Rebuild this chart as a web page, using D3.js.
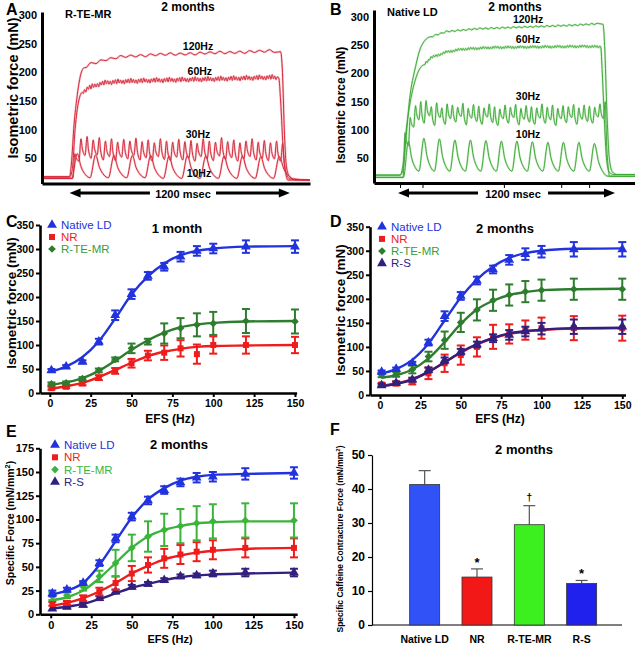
<!DOCTYPE html>
<html><head><meta charset="utf-8">
<script src="https://cdn.jsdelivr.net/npm/d3@7/dist/d3.min.js"></script>
<style>
body{margin:0;background:#fff;}
svg text{font-family:"Liberation Sans",Arial,Helvetica,sans-serif;}
</style></head>
<body><svg id="fig" width="635" height="647"></svg>
<script>
// ================= DATA =================
// Panels A/B: isometric force traces (mN) vs time (ms from stimulation onset)
const yTicksAB = [50,100,150,200,250,300];

// A: R-TE-MR, 2 months
const a10Peaks   = [58,56,55,55,55,54,55,54,54,54,53,53];
const a10Troughs = [15,16,16,16,16,15,15,15,15,15,15,15];
const a30Peaks   = [58,84,88,82,86,80,84,78,83,80,85,79,82,77,84,80,78,83,79,81,76,84,80,78,86,79,82,77,80,84,78,81,77,80,76];
const a30Troughs = [15,45,55,50,56,47,53,46,52,49,55,47,51,45,53,48,46,52,47,50,45,53,49,46,54,48,51,45,49,53,47,50,46,49,45];
const a60Times   = [-150,0,15,30,50,70,100,150,200,300,500,800,1000,1100,1140,1150,1165,1180,1200,1310];
const a60Force   = [17,17,30,100,150,165,172,178,182,184,186,188,190,191,190,150,60,25,14,12];
const a120Times  = [-150,0,10,25,40,60,80,110,150,200,300,500,700,900,1100,1150,1160,1170,1180,1195,1220,1310];
const a120Force  = [18,18,40,110,155,195,208,215,218,222,228,231,233,235,237,236,200,100,40,20,14,12];
const a60Ripple  = [3,2,4,3,2,4,3,5,2,3];
const a120Ripple = [2,1.5,2.5,2,1.5];

// B: Native LD, 2 months
const b10Peaks   = [80,85,84,82,82,81,80,80,79,78,78,78,76];
const b10Troughs = [16,27,27,27,27,27,27,27,27,27,27,27,27];
const b30Peaks   = [95,122,143,150,152,141,148,139,146,144,140,147,138,145,142,139,146,141,137,144,140,145,138,143,141,139,146,140,144,138,143,141,145,139,144,142,140,146,150];
const b30Troughs = [16,72,105,118,112,125,108,122,110,120,114,124,109,121,115,110,123,113,108,120,112,122,109,119,114,110,121,112,118,108,120,113,122,110,119,115,112,123,120];
const b60Times   = [-168,0,20,40,60,100,150,200,300,400,600,900,1200,1295,1305,1318,1332,1350,1380,1516];
const b60Force   = [20,20,40,100,140,190,215,228,238,243,246,247,248,247,200,120,50,25,21,21];
const b120Times  = [-168,0,20,40,60,100,140,200,300,500,800,1100,1290,1310,1320,1335,1350,1370,1400,1516];
const b120Force  = [20,20,30,90,150,212,250,265,274,279,282,285,288,287,250,130,50,26,21,21];
const b60Ripple  = [2,1.5,2.5,1,2];
const b120Ripple = [1,1.5,0.8,1.2];
const bTickTimes = [0,145,670,1040,1220];

// Panels C/D/E: force-frequency relationships
const efsHz    = [1,10,20,30,40,50,60,70,80,90,100,120,150];
const efsTicks = [0,25,50,75,100,125,150];

// C: 1 month, isometric force (mN)
const c1NativeMean = [47,55,65,107,162,206,244,263,284,296,301,305,305];
const c1NativeErr  = [3,3,3,6,10,10,8,8,10,10,10,13,13];
const c1NativeFit  = [45,55,75,108,155,205,243,270,287,296,301,305,306];
const c1NRMean     = [10,13,20,32,46,62,78,84,93,81,100,100,100];
const c1NRErr      = [3,3,4,5,6,9,10,15,17,20,18,18,17];
const c1NRFit      = [9,14,21,33,48,63,77,86,92,96,98,99,100];
const c1TEMean     = [19,21,30,47,70,93,107,124,135,142,145,150,149];
const c1TEErr      = [3,3,3,4,4,10,6,21,21,24,24,25,25];
const c1TEFit      = [17,22,31,46,67,90,110,126,137,143,146,149,150];

// D: 2 months, isometric force (mN)
const d2NativeMean = [48,54,66,109,164,206,238,261,281,293,298,303,303];
const d2NativeErr  = [3,3,3,6,10,8,8,8,10,12,12,15,15];
const d2NativeFit  = [45,54,73,107,155,203,240,267,285,295,300,304,305];
const d2NRMean     = [22,24,28,45,66,83,100,121,127,135,139,139,139];
const d2NRErr      = [3,4,6,12,18,20,20,25,20,20,22,25,26];
const d2NRFit      = [19,24,33,48,68,88,105,118,127,132,135,138,139];
const d2TEMean     = [42,43,53,80,114,151,177,197,208,215,218,220,220];
const d2TEErr      = [5,5,8,10,18,20,22,22,22,22,22,22,22];
const d2TEFit      = [36,41,53,76,110,148,178,196,208,214,218,220,221];
const d2RSMean     = [20,25,32,52,72,90,105,118,125,132,138,142,142];
const d2RSErr      = [3,3,4,5,6,6,6,8,10,10,12,15,15];
const d2RSFit      = [18,23,32,48,68,89,106,119,128,133,136,139,140];

// E: 2 months, specific force (mN/mm2)
const e2NativeMean = [22,26,33,54,80,103,120,131,139,144,145,148,149];
const e2NativeErr  = [3,2,2,3,4,4,4,4,4,5,5,6,6];
const e2NativeFit  = [21,25,33,52,77,102,121,133,141,145,147,148,149];
const e2NRMean     = [11,12,17,24,33,43,52,59,63,66,68,70,70];
const e2NRErr      = [2,2,3,4,7,8,8,10,10,10,10,10,10];
const e2NRFit      = [9,12,17,24,33,43,51,58,62,65,67,69,70];
const e2TEMean     = [19,20,29,40,54,70,82,89,93,96,98,99,99];
const e2TEErr      = [4,3,4,6,14,14,16,17,18,18,18,18,18];
const e2TEFit      = [15,18,25,38,54,70,82,89,93,96,97,98,98];
const e2RSMean     = [6,8,10,17,24,29,32,36,40,41,43,44,44];
const e2RSErr      = [1,2,2,2,2,2,2,2,2,2,3,4,4];
const e2RSFit      = [6,8,11,16,22,28,32,36,39,41,42,43,44];

// F: specific caffeine contracture force, 2 months
const fGroups = ["Native LD","NR","R-TE-MR","R-S"];
const fMeans  = [41.3,14.1,29.5,12.2];
const fSEM    = [4.1,2.4,5.6,0.9];
const fMarks  = ["","*","\u2020","*"];
const fTicks  = [0,10,20,30,40,50];
const fColors = ["#3152f6","#f31818","#3cf020","#2121ee"];

// ================= DRAWING =================
const svg = d3.select("#fig");

function addText(x,y,s,size,opt={}){
  return svg.append("text").attr("x",x).attr("y",y).text(s)
    .attr("font-size",size).attr("font-weight",opt.weight||"bold")
    .attr("text-anchor",opt.anchor||"start").attr("fill",opt.fill||"#000");
}
function vText(x,y,parts,size){
  const t = svg.append("text").attr("transform",`translate(${x},${y}) rotate(-90)`)
    .attr("text-anchor","middle").attr("font-size",size).attr("font-weight","bold").attr("fill","#000");
  if (parts.length===1){ t.text(parts[0]); return; }
  t.append("tspan").text(parts[0]);
  t.append("tspan").text(parts[1]).attr("font-size",size*0.7).attr("dy",-size*0.4);
  t.append("tspan").text(parts[2]).attr("dy",size*0.4);
}

// twitch train: pre-baseline, then one rise/decay per stimulus
function twitchPoints(onset,period,rise,peaks,troughs,pre,post,tStart,tEnd){
  const pts=[[tStart,pre],[onset,pre]];
  peaks.forEach((p,i)=>{
    const t0=onset+i*period;
    if(i>0) pts.push([t0,troughs[i]]);
    pts.push([t0+rise,p]);
    const nxt = i+1<peaks.length ? troughs[i+1] : post;
    const dec = (i+1<peaks.length ? period : period*1.2)-rise;
    pts.push([t0+rise+dec*0.3, nxt+(p-nxt)*0.45]);
    pts.push([t0+rise+dec*0.65, nxt+(p-nxt)*0.12]);
  });
  const tl = onset+(peaks.length-1)*period+period*1.2;
  pts.push([tl,post]); pts.push([tEnd,post]);
  return pts;
}
// tetanic envelope with small ripple on the plateau
function envPoints(T,V,rip,step,w0,w1){
  const f=d3.scaleLinear().domain(T).range(V);
  const pts=[];
  T.forEach(t=>{ if(t<w0||t>w1) pts.push([t,f(t)]); });
  let k=0;
  for(let t=w0;t<=w1;t+=step,k++) pts.push([t,f(t)+(k%2?1:-1)*rip[k%rip.length]]);
  pts.sort((a,b)=>a[0]-b[0]);
  return pts;
}

function tracePanel(P){
  const g=svg.append("g");
  const x=d3.scaleLinear().domain(P.tDom).range(P.xRange);
  const y=d3.scaleLinear().domain(P.vDom).range(P.yRange);
  const line=d3.line().x(d=>x(d[0])).y(d=>y(d[1])).curve(d3.curveMonotoneX);
  P.traces.forEach(tr=>g.append("path").attr("d",line(tr)).attr("fill","none")
    .attr("stroke",P.glow).attr("stroke-width",2.2).attr("stroke-linejoin","round"));
  P.traces.forEach(tr=>g.append("path").attr("d",line(tr)).attr("fill","none")
    .attr("stroke",P.color).attr("stroke-width",1).attr("stroke-linejoin","round"));
  const ya=g.append("g").attr("transform",`translate(${P.xRange[0]},0)`)
    .call(d3.axisLeft(y).tickValues(yTicksAB).tickSize(0).tickPadding(5));
  ya.select(".domain").attr("stroke","#000").attr("stroke-width",3);
  ya.selectAll("text").attr("font-size",11).attr("font-weight","bold").attr("fill","#000");
  const xa=g.append("g").attr("transform",`translate(0,${P.yRange[0]})`)
    .call(d3.axisBottom(x).tickValues(P.xTicks).tickSize(5).tickSizeOuter(0).tickFormat(""));
  xa.select(".domain").attr("stroke","#000").attr("stroke-width",3);
  xa.selectAll(".tick line").attr("stroke","#000").attr("stroke-width",1);
  P.labels.forEach(l=>g.append("text").attr("x",x(l[1])).attr("y",y(l[2])).text(l[0])
    .attr("text-anchor","middle").attr("font-size",10.5).attr("font-weight","bold"));
  // 1200 msec arrow
  const x1=x(P.arrow[0]), x2=x(P.arrow[1]), g1=x(P.arrowGap[0]), g2=x(P.arrowGap[1]), yy=P.arrowY;
  const hl=11, hw=4.5;
  g.append("line").attr("x1",x1+hl-1).attr("x2",g1).attr("y1",yy).attr("y2",yy).attr("stroke","#000").attr("stroke-width",3);
  g.append("line").attr("x1",g2).attr("x2",x2-hl+1).attr("y1",yy).attr("y2",yy).attr("stroke","#000").attr("stroke-width",3);
  g.append("path").attr("d",`M${x1},${yy}L${x1+hl},${yy-hw}L${x1+hl},${yy+hw}Z`).attr("fill","#000");
  g.append("path").attr("d",`M${x2},${yy}L${x2-hl},${yy-hw}L${x2-hl},${yy+hw}Z`).attr("fill","#000");
  g.append("text").attr("x",(g1+g2)/2).attr("y",yy+5).text("1200 msec")
    .attr("text-anchor","middle").attr("font-size",11).attr("font-weight","bold");
}

tracePanel({
  tDom:[-150,1310], xRange:[42,310], vDom:[6,305.2], yRange:[183.5,12],
  color:"#d42a3c", glow:"#f8c4c9", xTicks:[],
  traces:[
    envPoints(a120Times,a120Force,a120Ripple,27,90,1140),
    envPoints(a60Times,a60Force,a60Ripple,7,75,1135),
    twitchPoints(18,33.3,11,a30Peaks,a30Troughs,15,12,-150,1310),
    twitchPoints(12,100,30,a10Peaks,a10Troughs,15,12,-150,1310)
  ],
  labels:[["120Hz",700,239],["60Hz",710,195],["30Hz",700,85],["10Hz",705,17]],
  arrow:[0,1200], arrowGap:[438,798], arrowY:193
});
tracePanel({
  tDom:[-168,1516], xRange:[374,635], vDom:[6,312.4], yRange:[183,10],
  color:"#3fa83a", glow:"#cdeec8", xTicks:bTickTimes,
  traces:[
    envPoints(b120Times,b120Force,b120Ripple,18,210,1285),
    envPoints(b60Times,b60Force,b60Ripple,8,160,1290),
    twitchPoints(20,34,12,b30Peaks,b30Troughs,16,18,-168,1516),
    twitchPoints(22,100,32,b10Peaks,b10Troughs,16,18,-168,1516)
  ],
  labels:[["120Hz",826,289],["60Hz",826,254],["30Hz",826,153],["10Hz",826,86]],
  arrow:[-13,1387], arrowGap:[503,955], arrowY:193
});
addText(6,15,"A",16); addText(330,15,"B",16);
addText(188,11,"2 months",12,{anchor:"middle"});
addText(515,11,"2 months",12,{anchor:"middle"});
addText(65,18,"R-TE-MR",11); addText(387,16,"Native LD",11);
vText(18,88,["Isometric force (mN)"],14.5);
vText(345,105,["Isometric force (mN)"],12);

// ---- curve panels ----
const sym = {
  tri: d3.symbol().type(d3.symbolTriangle).size(42),
  sq:  d3.symbol().type(d3.symbolSquare).size(36),
  dia: d3.symbol().type(d3.symbolSquare).size(30)
};
function marker(g,type,cx,cy,color){
  g.append("path").attr("d",sym[type]()).attr("fill",color)
    .attr("transform",`translate(${cx},${cy})${type==="dia"?" rotate(45)":""}`);
}
function curvePanel(P){
  const g=svg.append("g");
  const x=d3.scaleLinear().domain(P.xDom).range(P.xRange);
  const y=d3.scaleLinear().domain([0,P.yMax]).range(P.yRange);
  const gx=g.append("g").attr("transform",`translate(0,${P.yRange[0]})`)
    .call(d3.axisBottom(x).tickValues(efsTicks).tickSize(4).tickSizeOuter(0).tickPadding(3));
  const gy=g.append("g").attr("transform",`translate(${P.xRange[0]},0)`)
    .call(d3.axisLeft(y).tickValues(P.yTicks).tickSize(4).tickSizeOuter(0).tickPadding(2));
  [gx,gy].forEach(a=>{
    a.select(".domain").attr("stroke","#000").attr("stroke-width",2.6);
    a.selectAll(".tick line").attr("stroke","#000").attr("stroke-width",2);
    a.selectAll(".tick text").attr("font-size",P.tickFont).attr("font-weight","bold").attr("fill","#000");
  });
  const line=d3.line().x((d,i)=>x(efsHz[i])).y(d=>y(d)).curve(d3.curveMonotoneX);
  P.series.forEach(s=>{
    g.append("path").attr("d",line(s.fit)).attr("fill","none").attr("stroke",s.line||s.color).attr("stroke-width",2.4);
    s.mean.forEach((m,i)=>{
      const cx=x(efsHz[i]), e=s.err[i];
      if(e>1.5){
        g.append("line").attr("x1",cx).attr("x2",cx).attr("y1",y(m-e)).attr("y2",y(m+e)).attr("stroke",s.color).attr("stroke-width",2);
        [m-e,m+e].forEach(v=>g.append("line").attr("x1",cx-4).attr("x2",cx+4).attr("y1",y(v)).attr("y2",y(v)).attr("stroke",s.color).attr("stroke-width",2));
      }
      marker(g,s.sym,cx,y(m),s.color);
    });
  });
  P.legend.forEach((s,i)=>{
    const yy=P.legY+i*P.legStep;
    marker(g,s.sym,P.legX,yy,s.color);
    g.append("text").attr("x",P.legX+9).attr("y",yy+P.legFont*0.36).text(s.name)
      .attr("font-size",P.legFont).attr("fill",s.text||s.color);
  });
}

const blue="#2233dd", red="#ee1c1c", dkGreen="#2e7d2e", ltGreen="#3cb43c", purple="#33207e";
const sNat = (m,e,f)=>({name:"Native LD",sym:"tri",color:blue,mean:m,err:e,fit:f});
const sNR  = (m,e,f)=>({name:"NR",sym:"sq",color:red,mean:m,err:e,fit:f});
const sTE  = (m,e,f,c,t)=>({name:"R-TE-MR",sym:"dia",color:c,mean:m,err:e,fit:f,text:t});
const sRS  = (m,e,f)=>({name:"R-S",sym:"tri",color:purple,mean:m,err:e,fit:f});

{
  const nat=sNat(c1NativeMean,c1NativeErr,c1NativeFit), nr=sNR(c1NRMean,c1NRErr,c1NRFit),
        te=sTE(c1TEMean,c1TEErr,c1TEFit,dkGreen,"#3a9d3a");
  curvePanel({xDom:[-6,151],xRange:[40,296.6],yMax:350,yRange:[393,225],yTicks:[0,50,100,150,200,250,300,350],
    tickFont:10.5,series:[nr,te,nat],legend:[nat,nr,te],legX:52,legY:225,legStep:12,legFont:11.5});
}
{
  const nat=sNat(d2NativeMean,d2NativeErr,d2NativeFit), nr=sNR(d2NRMean,d2NRErr,d2NRFit),
        te=sTE(d2TEMean,d2TEErr,d2TEFit,dkGreen,"#3a9d3a"), rs=sRS(d2RSMean,d2RSErr,d2RSFit);
  curvePanel({xDom:[-6.2,152],xRange:[370,625.5],yMax:350,yRange:[395,226.7],yTicks:[0,50,100,150,200,250,300,350],
    tickFont:10.5,series:[nr,rs,te,nat],legend:[nat,nr,te,rs],legX:382,legY:226.7,legStep:12.2,legFont:11.5});
}
{
  const nat=sNat(e2NativeMean,e2NativeErr,e2NativeFit), nr=sNR(e2NRMean,e2NRErr,e2NRFit),
        te=sTE(e2TEMean,e2TEErr,e2TEFit,ltGreen,ltGreen), rs=sRS(e2RSMean,e2RSErr,e2RSFit);
  curvePanel({xDom:[-6.6,152],xRange:[40,297.2],yMax:175,yRange:[614.3,448.3],yTicks:[0,25,50,75,100,125,150,175],
    tickFont:11,series:[rs,nr,te,nat],legend:[nat,nr,te,rs],legX:55,legY:445,legStep:12.3,legFont:11.5});
}
addText(6,227,"C",16); addText(330,227,"D",16); addText(6,437,"E",16); addText(330,435,"F",16);
addText(177,233,"1 month",13,{anchor:"middle"});
addText(505,233,"2 months",13,{anchor:"middle"});
addText(179,449,"2 months",13,{anchor:"middle"});
addText(170,423,"EFS (Hz)",12,{anchor:"middle"});
addText(500,423,"EFS (Hz)",12,{anchor:"middle"});
addText(170,643,"EFS (Hz)",11,{anchor:"middle"});
vText(16,303,["Isometric force (mN)"],13.5);
vText(345,310,["Isometric force (mN)"],13.5);
vText(14,523,["Specific Force (mN/mm","2",")"],10.5);

// ---- panel F ----
{
  const g=svg.append("g");
  const fx=d3.scaleBand().domain(fGroups).range([398.5,607.8]).paddingInner(0.4264).paddingOuter(0.2132);
  const fy=d3.scaleLinear().domain([0,50]).range([625,455]);
  const gy=g.append("g").attr("transform","translate(372,0)")
    .call(d3.axisLeft(fy).tickValues(fTicks).tickSize(4).tickSizeOuter(0).tickPadding(3));
  gy.select(".domain").attr("stroke","#000").attr("stroke-width",1.2);
  gy.selectAll(".tick line").attr("stroke","#000").attr("stroke-width",1.2);
  gy.selectAll(".tick text").attr("font-size",12).attr("font-weight","bold").attr("fill","#000");
  g.append("line").attr("x1",372).attr("x2",622).attr("y1",fy(0)).attr("y2",fy(0)).attr("stroke","#000").attr("stroke-width",1.2);
  fGroups.forEach((k,i)=>{
    const bx=fx(k), bw=fx.bandwidth(), cx=bx+bw/2;
    g.append("line").attr("x1",cx).attr("x2",cx).attr("y1",fy(fMeans[i])).attr("y2",fy(fMeans[i]+fSEM[i])).attr("stroke","#555").attr("stroke-width",1.2);
    g.append("line").attr("x1",cx-6).attr("x2",cx+6).attr("y1",fy(fMeans[i]+fSEM[i])).attr("y2",fy(fMeans[i]+fSEM[i])).attr("stroke","#555").attr("stroke-width",1.2);
    g.append("rect").attr("x",bx).attr("y",fy(fMeans[i])).attr("width",bw).attr("height",fy(0)-fy(fMeans[i]))
      .attr("fill",fColors[i]).attr("stroke","#333").attr("stroke-width",0.8);
    if(fMarks[i]) g.append("text").attr("x",cx).attr("y",fy(fMeans[i]+fSEM[i])-(fMarks[i]==="*"?2:5)).text(fMarks[i])
      .attr("text-anchor","middle").attr("font-size",fMarks[i]==="*"?13:10).attr("font-weight","bold");
    g.append("text").attr("x",cx).attr("y",643).text(k).attr("text-anchor","middle").attr("font-size",10.5).attr("font-weight","bold");
  });
  addText(524,454,"2 months",13,{anchor:"middle"});
  vText(343,539,["Specific Caffeine Contracture Force (mN/mm","2",")"],8.5);
}
</script></body></html>
